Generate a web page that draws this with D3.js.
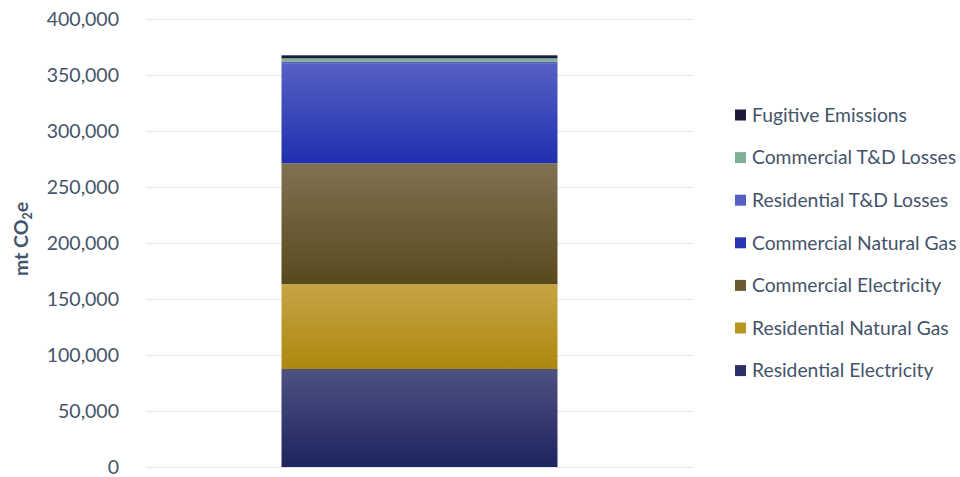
<!DOCTYPE html>
<html><head><meta charset="utf-8">
<script src="https://cdn.jsdelivr.net/npm/d3@7"></script>
<style>body{margin:0;background:#fff}svg{display:block}</style>
</head><body>
<svg id="c" width="960" height="477"></svg>
<script>
const categories = ["Total"];
const seriesNames = ["Residential Electricity","Residential Natural Gas","Commercial Electricity","Commercial Natural Gas","Residential T&D Losses","Commercial T&D Losses","Fugitive Emissions"];
const seriesValues = [87500, 75700, 108000, 88800, 1800, 3100, 2700];
const yTicks = [0,50000,100000,150000,200000,250000,300000,350000,400000];
const colorsTop = ["#4d5282","#c6a445","#807252","#5660c4","#5a64c2","#86b69e","#23264a"];
const colorsBottom = ["#1e245e","#ad880e","#58491c","#1f2fae","#4e58b8","#78a890","#14162e"];
const swatch = ["#2b3068","#b8961f","#6a5b30","#2838b4","#5560c0","#7fb097","#1a1c38"];

const svg = d3.select("#c");
const x = d3.scaleBand().domain(categories).range([146,693]).paddingInner(0).paddingOuter(0.491);
const y = d3.scaleLinear().domain([0,400000]).range([467,19]);
const textCol = "#44546a";
const font = "Lato, 'Open Sans', sans-serif";

const defs = svg.append("defs");
seriesNames.forEach((s,i)=>{
  const g = defs.append("linearGradient").attr("id","g"+i).attr("x1",0).attr("y1",0).attr("x2",0).attr("y2",1);
  g.append("stop").attr("offset","0%").attr("stop-color",colorsTop[i]);
  g.append("stop").attr("offset","100%").attr("stop-color",colorsBottom[i]);
});

// grid
svg.append("g").selectAll("line").data(yTicks).join("line")
  .attr("x1",146).attr("x2",693).attr("y1",d=>y(d)+0.5).attr("y2",d=>y(d)+0.5)
  .attr("stroke","#e2e5ea").attr("stroke-width",1.2);

// y axis labels
const yAxis = d3.axisLeft(y).tickValues(yTicks).tickFormat(d3.format(",")).tickSize(0).tickPadding(0);
const ag = svg.append("g").attr("transform","translate(119,0)").call(yAxis);
ag.select(".domain").remove();
ag.selectAll("text").attr("fill",textCol).style("font-family",font).style("font-size","19.5px").attr("dy","0.34em");

// stacked bar
const stackData = [Object.fromEntries(seriesNames.map((s,i)=>[s,seriesValues[i]]).concat([["cat",categories[0]]]))];
const stack = d3.stack().keys(seriesNames)(stackData);
svg.append("g").selectAll("rect").data(stack).join("rect")
  .attr("x",x(categories[0])).attr("width",x.bandwidth())
  .attr("y",d=>y(d[0][1])).attr("height",d=>y(d[0][0])-y(d[0][1]))
  .attr("fill",(d,i)=>`url(#g${i})`);

// y title
const yt = svg.append("text").attr("transform","translate(28,239) rotate(-90)")
  .attr("text-anchor","middle").attr("fill",textCol)
  .style("font-family",font).style("font-size","19.5px").style("font-weight","bold");
yt.append("tspan").text("mt CO");
yt.append("tspan").text("2").style("font-size","12.5px").attr("dy","4");
yt.append("tspan").text("e").attr("dy","-4");

// legend (reverse order)
const legendOrder = seriesNames.map((s,i)=>i).reverse();
const lg = svg.append("g").selectAll("g").data(legendOrder).join("g")
  .attr("transform",(d,k)=>`translate(735,${115+k*42.6})`);
lg.append("rect").attr("x",0).attr("y",-5.5).attr("width",11).attr("height",11).attr("fill",d=>swatch[d]);
lg.append("text").attr("x",17).attr("y",0).attr("dy","0.35em").text(d=>seriesNames[d])
  .attr("fill",textCol).style("font-family",font).style("font-size","19.3px");
</script>
</body></html>
